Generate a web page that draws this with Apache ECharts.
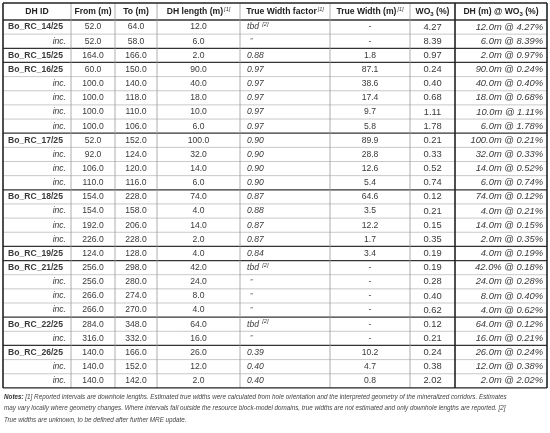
<!DOCTYPE html>
<html>
<head>
<meta charset="utf-8">
<script src="https://cdn.jsdelivr.net/npm/echarts@6/dist/echarts.min.js"></script>
<style>html,body{margin:0;padding:0;background:#fff}#main{width:550px;height:433px}</style>
</head>
<body>
<div id="main"></div>
<script>
'use strict';
// table data, one array per column
var holeIds = ['Bo_RC_14/25','inc.','Bo_RC_15/25','Bo_RC_16/25','inc.','inc.','inc.','inc.','Bo_RC_17/25','inc.','inc.','inc.',
  'Bo_RC_18/25','inc.','inc.','inc.','Bo_RC_19/25','Bo_RC_21/25','inc.','inc.','inc.','Bo_RC_22/25','inc.','Bo_RC_26/25','inc.','inc.'];
var fromM = ['52.0','52.0','164.0','60.0','100.0','100.0','100.0','100.0','52.0','92.0','106.0','110.0',
  '154.0','154.0','192.0','226.0','124.0','256.0','256.0','266.0','266.0','284.0','316.0','140.0','140.0','140.0'];
var toM = ['64.0','58.0','166.0','150.0','140.0','118.0','110.0','106.0','152.0','124.0','120.0','116.0',
  '228.0','158.0','206.0','228.0','128.0','298.0','280.0','274.0','270.0','348.0','332.0','166.0','152.0','142.0'];
var dhLength = ['12.0','6.0','2.0','90.0','40.0','18.0','10.0','6.0','100.0','32.0','14.0','6.0',
  '74.0','4.0','14.0','2.0','4.0','42.0','24.0','8.0','4.0','64.0','16.0','26.0','12.0','2.0'];
var twFactor = ['tbd','"','0.88','0.97','0.97','0.97','0.97','0.97','0.90','0.90','0.90','0.90',
  '0.87','0.88','0.87','0.87','0.84','tbd','"','"','"','tbd','"','0.39','0.40','0.40'];
var trueWidth = ['-','-','1.8','87.1','38.6','17.4','9.7','5.8','89.9','28.8','12.6','5.4',
  '64.6','3.5','12.2','1.7','3.4','-','-','-','-','-','-','10.2','4.7','0.8'];
var wo3 = ['4.27','8.39','0.97','0.24','0.40','0.68','1.11','1.78','0.21','0.33','0.52','0.74',
  '0.12','0.21','0.15','0.35','0.19','0.19','0.28','0.40','0.62','0.12','0.21','0.24','0.38','2.02'];
var dhAtWo3 = ['12.0m @ 4.27%','6.0m @ 8.39%','2.0m @ 0.97%','90.0m @ 0.24%','40.0m @ 0.40%','18.0m @ 0.68%','10.0m @ 1.11%','6.0m @ 1.78%',
  '100.0m @ 0.21%','32.0m @ 0.33%','14.0m @ 0.52%','6.0m @ 0.74%','74.0m @ 0.12%','4.0m @ 0.21%','14.0m @ 0.15%','2.0m @ 0.35%',
  '4.0m @ 0.19%','42.0% @ 0.18%','24.0m @ 0.28%','8.0m @ 0.40%','4.0m @ 0.62%','64.0m @ 0.12%','16.0m @ 0.21%','26.0m @ 0.24%','12.0m @ 0.38%','2.0m @ 2.02%'];
var headers = ['DH ID','From (m)','To (m)','DH length (m){s|[1]}','True Width factor{s|[1]}','True Width (m){s|[1]}','WO{b|3} (%)','DH (m) @ WO{b|3} (%)'];
var notes = [
  '{nb|Notes:} [1] Reported intervals are downhole lengths. Estimated true widths were calculated from hole orientation and the interpreted geometry of the mineralized corridors. Estimates',
  'may vary locally where geometry changes. Where intervals fall outside the resource block-model domains, true widths are not estimated and only downhole lengths are reported. [2]',
  'True widths are unknown, to be defined after further MRE update.'
];

var colX = [3, 71, 115, 157, 240, 330, 410, 455, 547];
var tableTop = 3, headH = 17, rowH = 14.15;
var font = 'Liberation Sans';
var els = [];
var fs = 8.6;

function text(x, y, str, align, style) {
  els.push({type: 'text', x: x, y: y, z: 5, style: {
    text: str, fill: '#3a3a3a', font: style || (fs + 'px ' + font),
    textAlign: align, textVerticalAlign: 'middle'
  }});
}
function line(x1, y1, x2, y2, w, c) {
  els.push({type: 'line', z: 3, shape: {x1: x1, y1: y1, x2: x2, y2: y2}, style: {stroke: c, lineWidth: w}});
}

var supRich = {
  s: {fontSize: 5.5, fontStyle: 'italic', verticalAlign: 'top', padding: [0, 0, 5, 1], fill: '#333', fontFamily: font},
  b: {fontSize: 6, fontWeight: 'bold', padding: [5, 0, 0, 0], fill: '#222', fontFamily: font}
};
headers.forEach(function(h, i) {
  els.push({type: 'text', x: (colX[i] + colX[i + 1]) / 2, y: tableTop + headH / 2 + 0.5, z: 5, style: {
    text: h, fill: '#222', font: 'bold 8.6px ' + font, textAlign: 'center', textVerticalAlign: 'middle',
    rich: supRich
  }});
});

var bottom = tableTop + headH + rowH * holeIds.length;
holeIds.forEach(function(id, r) {
  var y = tableTop + headH + rowH * r + rowH / 2;
  var main = id !== 'inc.';
  if (main) text(8, y, id, 'left', 'bold ' + fs + 'px ' + font);
  else text(66, y, id, 'right', 'italic ' + fs + 'px ' + font);
  text((colX[1] + colX[2]) / 2, y, fromM[r], 'center');
  text((colX[2] + colX[3]) / 2, y, toM[r], 'center');
  text((colX[3] + colX[4]) / 2, y, dhLength[r], 'center');
  var f = twFactor[r];
  if (f === 'tbd') {
    els.push({type: 'text', x: 247, y: y, z: 5, style: {text: 'tbd {s|[2]}', fill: '#3a3a3a',
      font: 'italic ' + fs + 'px ' + font, textAlign: 'left', textVerticalAlign: 'middle', rich: supRich}});
  } else if (f === '"') {
    text(250, y, '\u201D', 'left', 'italic 7px ' + font);
  } else {
    text(247, y, f, 'left', 'italic ' + fs + 'px ' + font);
  }
  text((colX[5] + colX[6]) / 2, y, trueWidth[r], 'center');
  text((colX[6] + colX[7]) / 2, y, wo3[r], 'center', '9.4px ' + font);
  text(543, y, dhAtWo3[r], 'right', 'italic 9.4px ' + font);
  var yl = tableTop + headH + rowH * (r + 1);
  var nextMain = r + 1 < holeIds.length && holeIds[r + 1] !== 'inc.';
  if (r + 1 < holeIds.length) line(colX[0], yl, colX[8], yl, nextMain ? 1.3 : 0.8, nextMain ? '#333' : '#bbb');
});
line(colX[0], tableTop + headH, colX[8], tableTop + headH, 1.3, '#333');
colX.forEach(function(x, i) {
  var strong = i === 0 || i === 8 || i === 7;
  line(x, tableTop, x, bottom, strong ? 1.6 : 0.8, strong ? '#222' : '#999');
});
line(colX[0], tableTop, colX[8], tableTop, 1.4, '#222');
line(colX[0], bottom, colX[8], bottom, 1.4, '#222');

notes.forEach(function(n, i) {
  els.push({type: 'text', x: 4, y: 397 + i * 11.5, z: 5, style: {text: n, fill: '#444',
    font: 'italic 6.3px ' + font, textAlign: 'left', textVerticalAlign: 'middle',
    rich: {nb: {fontWeight: 'bold', fontStyle: 'italic', fontSize: 6.3, fill: '#333', fontFamily: font}}}});
});

var myChart = echarts.init(document.getElementById('main'));
myChart.setOption({animation: false, graphic: {elements: els}});
</script>
</body>
</html>
